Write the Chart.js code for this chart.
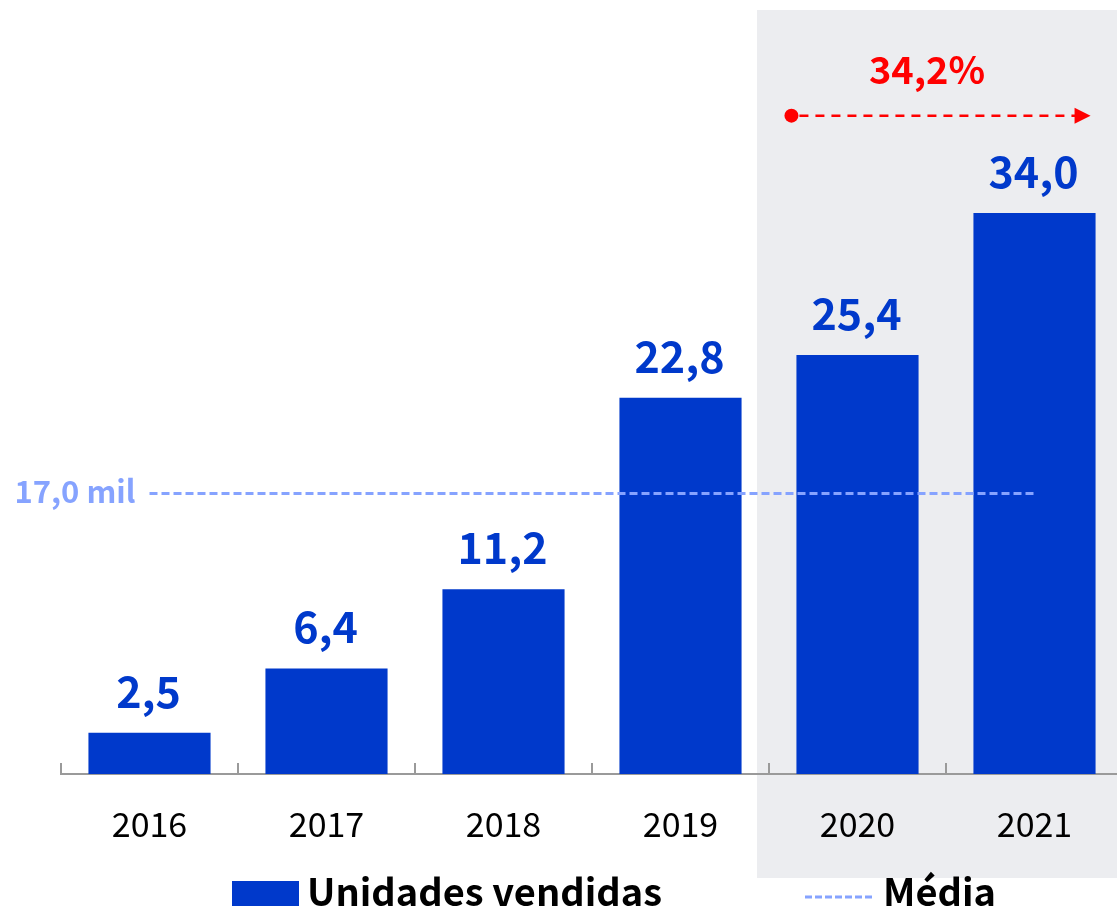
<!DOCTYPE html>
<html>
<head>
<meta charset="utf-8">
<script src="https://cdn.jsdelivr.net/npm/chart.js@4.4.1/dist/chart.umd.min.js"></script>
<style>
  html, body { margin: 0; padding: 0; background: #ffffff; overflow: hidden; }
  #wrap { position: absolute; left: 0; top: 0; width: 1123px; height: 910px; }
</style>
</head>
<body>
<div id="wrap"><canvas id="c" width="1123" height="910"></canvas></div>
<script>
const categories = ['2016', '2017', '2018', '2019', '2020', '2021'];
const unitsSold = [2.5, 6.4, 11.2, 22.8, 25.4, 34.0];
const averageValue = 17.0;
const averageLabel = '17,0 mil';
const growthLabel = '34,2%';
const seriesName = 'Unidades vendidas';
const averageName = 'Média';

const FONT = '"Noto Sans CJK JP", "Noto Sans", sans-serif';
const BLUE = '#0039CB';
const LIGHT = '#86A3FF';
const RED = '#FF0000';
const GREY_BG = '#ECEDF0';

const fmt = v => v.toFixed(1).replace('.', ',');

const decor = {
  id: 'decor',
  beforeDraw(chart) {
    const { ctx, scales: { x } } = chart;
    const step = x.getPixelForValue(1) - x.getPixelForValue(0);
    const left = x.getPixelForValue(4) - step / 2 - 12;
    ctx.save();
    ctx.fillStyle = GREY_BG;
    ctx.fillRect(left, 10, chart.width - left, 868);
    ctx.restore();
  },
  afterDatasetsDraw(chart) {
    const { ctx, scales: { x, y }, chartArea } = chart;
    const step = x.getPixelForValue(1) - x.getPixelForValue(0);
    ctx.save();
    // inward tick marks at category boundaries
    ctx.strokeStyle = '#9a9a9a';
    ctx.lineWidth = 2;
    for (let i = 0; i <= categories.length; i++) {
      const px = Math.round(x.getPixelForValue(0) - step / 2 + i * step);
      ctx.beginPath();
      ctx.moveTo(px, chartArea.bottom);
      ctx.lineTo(px, chartArea.bottom - 11);
      ctx.stroke();
    }
    // value labels
    const meta = chart.getDatasetMeta(0);
    ctx.fillStyle = BLUE;
    ctx.font = 'bold 43px ' + FONT;
    ctx.textAlign = 'center';
    ctx.textBaseline = 'alphabetic';
    meta.data.forEach((bar, i) => {
      ctx.fillText(fmt(unitsSold[i]), bar.x - 1, bar.y - 25);
    });
    // average label
    const lineMeta = chart.getDatasetMeta(1);
    const p0 = lineMeta.data[0];
    ctx.fillStyle = LIGHT;
    ctx.font = 'bold 31px ' + FONT;
    ctx.textAlign = 'right';
    ctx.textBaseline = 'middle';
    ctx.fillText(averageLabel, p0.x - 14, p0.y - 2);
    // growth arrow
    const b4 = meta.data[4], b5 = meta.data[5];
    const ay = y.getPixelForValue(39.9);
    const x1 = b4.x - b4.width / 2 - 5;
    const x2 = b5.x + b5.width / 2 - 5;
    ctx.strokeStyle = RED;
    ctx.fillStyle = RED;
    ctx.lineWidth = 2.5;
    ctx.setLineDash([9, 7]);
    ctx.beginPath();
    ctx.moveTo(x1 + 8, ay);
    ctx.lineTo(x2 - 14, ay);
    ctx.stroke();
    ctx.setLineDash([]);
    ctx.beginPath();
    ctx.arc(x1, ay, 7, 0, Math.PI * 2);
    ctx.fill();
    ctx.beginPath();
    ctx.moveTo(x2, ay);
    ctx.lineTo(x2 - 16, ay - 8);
    ctx.lineTo(x2 - 16, ay + 8);
    ctx.closePath();
    ctx.fill();
    ctx.font = 'bold 38px ' + FONT;
    ctx.textAlign = 'center';
    ctx.textBaseline = 'middle';
    ctx.fillText(growthLabel, (x1 + x2) / 2 - 14, y.getPixelForValue(42.7));
    // legend
    ctx.textAlign = 'left';
    ctx.textBaseline = 'alphabetic';
    ctx.fillStyle = BLUE;
    ctx.fillRect(232, 881, 67, 25);
    ctx.fillStyle = '#000000';
    ctx.font = 'bold 38px ' + FONT;
    ctx.fillText(seriesName, 307, 906);
    ctx.strokeStyle = LIGHT;
    ctx.lineWidth = 3;
    ctx.setLineDash([7, 3]);
    ctx.beginPath();
    ctx.moveTo(805, 897);
    ctx.lineTo(875, 897);
    ctx.stroke();
    ctx.setLineDash([]);
    ctx.fillText(averageName, 883, 906);
    ctx.restore();
  }
};

new Chart(document.getElementById('c'), {
  data: {
    labels: categories,
    datasets: [
      {
        type: 'bar',
        label: seriesName,
        data: unitsSold,
        backgroundColor: BLUE,
        categoryPercentage: 0.69,
        barPercentage: 1.0,
        order: 2
      },
      {
        type: 'line',
        label: averageName,
        data: categories.map(() => averageValue),
        borderColor: LIGHT,
        borderWidth: 3,
        borderDash: [8, 4],
        pointRadius: 0,
        fill: false,
        order: 1
      }
    ]
  },
  options: {
    responsive: false,
    animation: false,
    devicePixelRatio: 1,
    layout: { padding: { left: 61, right: 0, top: 15, bottom: 0 } },
    plugins: { legend: { display: false }, tooltip: { enabled: false } },
    scales: {
      x: {
        offset: true,
        grid: { display: false, drawTicks: false },
        border: { display: true, color: '#9a9a9a', width: 2 },
        ticks: { color: '#000000', font: { family: FONT, size: 34 }, padding: 30 },
        afterFit(scale) { scale.height = 136; }
      },
      y: {
        display: false,
        min: 0,
        max: 46
      }
    }
  },
  plugins: [decor]
});
</script>
</body>
</html>
